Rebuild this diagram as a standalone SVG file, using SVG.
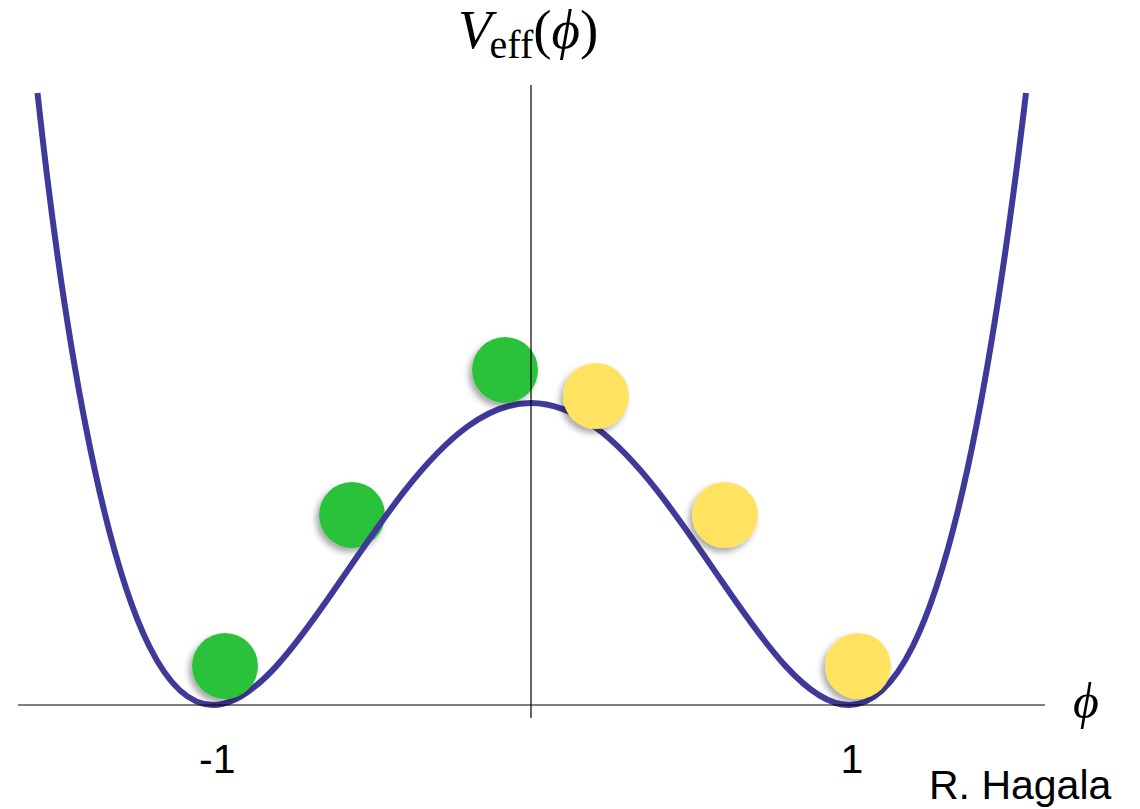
<svg xmlns="http://www.w3.org/2000/svg" width="1140" height="809" viewBox="0 0 1140 809">
<defs>
<filter id="sh" x="-40%" y="-40%" width="180%" height="180%">
<feDropShadow dx="-3" dy="4" stdDeviation="3" flood-color="#000" flood-opacity="0.35"/>
</filter>
<style>
.green{fill:#2bc23b;filter:url(#sh)}
.yellow{fill:#ffe25e;filter:url(#sh)}
.curve{fill:none;stroke:#3f3a99;stroke-width:6}
.axis{stroke:#000;stroke-width:1.2;fill:none}
.lbl{font-family:"Liberation Sans",Arial,sans-serif;font-size:41px;fill:#000}
.math{font-family:"Liberation Serif","DejaVu Serif",serif;fill:#000}
</style>
</defs>
<rect width="1140" height="809" fill="#fff"/>
<g id="ball-green-mid"><circle class="green" cx="352" cy="515" r="33"/></g>
<g id="potential-curve">
<path class="curve" d="M37.5,93 C52.73,233.97 69.26,342.26 85.8,426.68 C107,534.92 128.2,604.01 149.4,646.53 C170.6,689.05 191.8,705 213,705 C234.2,705 255.4,689.05 276.6,665.86 C297.8,642.67 319,612.22 340.2,581.3 C361.4,550.38 382.6,518.97 403.8,491.91 C425,464.85 446.2,442.14 467.4,426.68 C488.6,411.22 509.8,403 531,403 C552.2,403 573.4,411.22 594.6,426.68 C615.8,442.14 637,464.85 658.2,491.91 C679.4,518.97 700.6,550.38 721.8,581.3 C743,612.22 764.2,642.67 785.4,665.86 C806.6,689.05 827.8,705 849,705 C870.2,705 891.4,689.05 912.6,646.53 C933.8,604.01 955,534.92 976.2,426.68 C992.74,342.26 1009.27,233.97 1026,93"/>
</g>
<g id="ball-green-bottom"><circle class="green" cx="225" cy="666" r="33"/></g>
<g id="ball-green-top"><circle class="green" cx="505" cy="370" r="33"/></g>
<g id="ball-yellow-top"><circle class="yellow" cx="596" cy="396" r="33"/></g>
<g id="ball-yellow-mid"><circle class="yellow" cx="725" cy="515" r="33"/></g>
<g id="ball-yellow-bottom"><circle class="yellow" cx="858" cy="666" r="33"/></g>
<g id="connectors">
<line class="axis" x1="18" y1="705" x2="1045" y2="705"/>
<line class="axis" x1="531" y1="85" x2="531" y2="718"/>
</g>
<g id="labels">
<text class="math" x="458" y="48" font-size="55"><tspan font-style="italic">V</tspan><tspan font-size="40" dy="10" dx="-2">eff</tspan><tspan dy="-10">(</tspan><tspan font-style="italic">ϕ</tspan><tspan>)</tspan></text>
<text class="math" x="1073" y="718" font-size="50" font-style="italic">ϕ</text>
<text class="lbl" x="199" y="773">-1</text>
<text class="lbl" x="852" y="773" text-anchor="middle">1</text>
<text class="lbl" x="929" y="799" font-size="40">R. Hagala</text>
</g>
</svg>
